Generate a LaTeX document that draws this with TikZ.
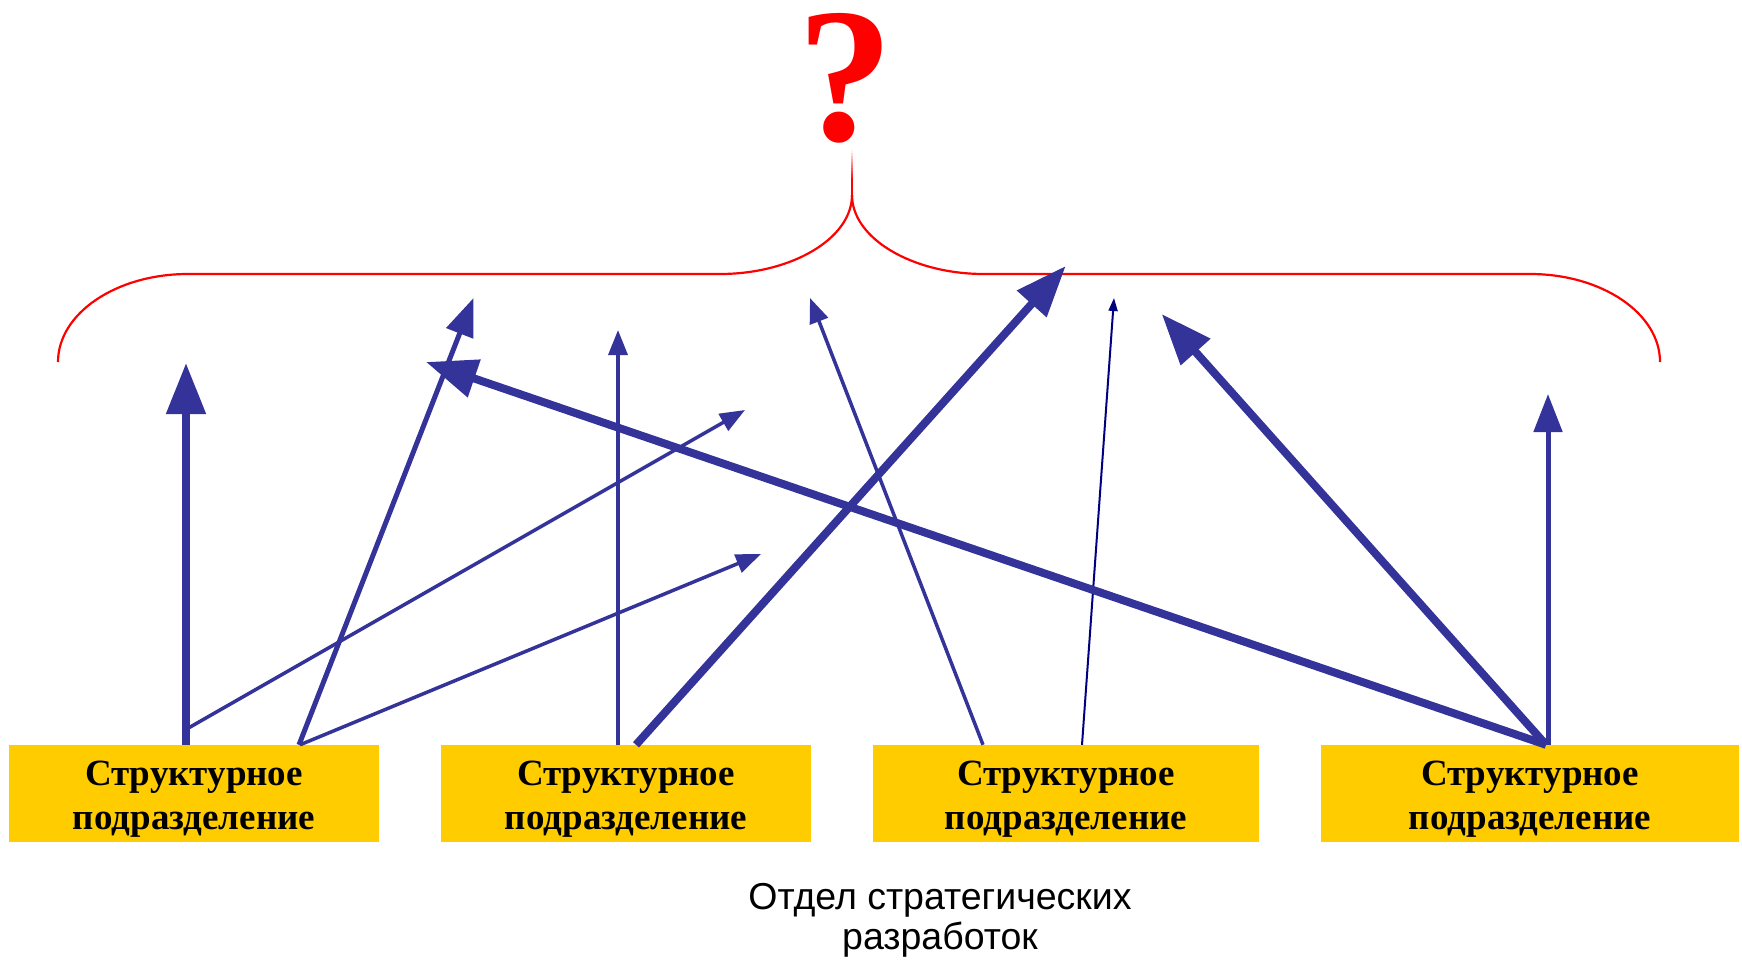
\documentclass[tikz,border=0pt]{standalone}
\usepackage{fontspec}
\setmainfont{Liberation Serif}
\newfontfamily\capfont{Liberation Sans}
\usetikzlibrary{arrows.meta}
\definecolor{arrblue}{RGB}{51,51,153}
\definecolor{navyblue}{RGB}{0,0,128}
\definecolor{boxyellow}{RGB}{255,204,0}
\definecolor{bracered}{RGB}{255,0,0}
\begin{document}
\begin{tikzpicture}[x=1pt,y=-1pt,
  unitbox/.style={fill=boxyellow, draw=none, inner sep=0pt, minimum height=97pt,
    align=center, font=\fontsize{37}{44}\selectfont\bfseries},
  thickarr/.style={draw=arrblue, line width=8pt, -{Triangle[length=51pt,width=38pt]}},
  medarr/.style={draw=arrblue, line width=5pt, -{Triangle[length=38pt,width=28pt]}},
  thinarr/.style={draw=arrblue, line width=3.5pt, -{Triangle[length=25pt,width=19pt]}},
  hairarr/.style={draw=navyblue, line width=2pt, -{Triangle[length=13pt,width=9pt]}},
  bracepath/.style={draw=bracered, line width=2.2pt}]
\useasboundingbox (0,0) rectangle (1742,960);

% boxes
\node[unitbox, minimum width=370pt] (b1) at (194,793.5) {\rule{0pt}{35pt}Структурное\\подразделение};
\node[unitbox, minimum width=370pt] (b2) at (626,793.5) {\rule{0pt}{35pt}Структурное\\подразделение};
\node[unitbox, minimum width=386pt] (b3) at (1066,793.5) {\rule{0pt}{35pt}Структурное\\подразделение};
\node[unitbox, minimum width=418pt] (b4) at (1530,793.5) {\rule{0pt}{35pt}Структурное\\подразделение};

% question mark
\node[anchor=base, text=bracered, inner sep=0pt, font=\fontsize{192}{192}\selectfont\bfseries] (qm) at (845,141) {?};

% brace
\foreach \i in {0,...,9}
  \draw[draw=bracered, line width=2.2pt, draw opacity=\i/10+0.05] (852,150+3*\i) -- (852,153+3*\i);
\draw[bracepath] (852,179) -- (852,195);
\draw[bracepath] (852,195) .. controls (852,238.6) and (791.5,274) .. (720,274) -- (188,274)
  .. controls (116.2,274) and (58,313.4) .. (58,362);
\draw[bracepath] (852,195) .. controls (852,238.6) and (912.5,274) .. (984,274) -- (1530,274)
  .. controls (1601.8,274) and (1660,313.4) .. (1660,362);

% free ends of the connectors
\coordinate (t1) at (186,363);
\coordinate (t2) at (473.5,298);
\coordinate (t3) at (745,410);
\coordinate (t4) at (761,554);
\coordinate (t5) at (618,330);
\coordinate (t6) at (1065.7,266);
\coordinate (t7) at (810,298);
\coordinate (t8) at (1114,298);
\coordinate (t9) at (426,362);
\coordinate (t10) at (1161.7,314);
\coordinate (t11) at (1548,394);

% connectors
\draw[thickarr] ([xshift=-8pt]b1.north) -- (t1);
\draw[medarr] ([xshift=105pt]b1.north) -- (t2);
\draw[thinarr] ([xshift=-7pt,yshift=16pt]b1.north) -- (t3);
\draw[thinarr] ([xshift=106pt]b1.north) -- (t4);
\draw[thinarr] ([xshift=-8pt]b2.north) -- (t5);
\draw[thickarr] ([xshift=10pt]b2.north) -- (t6);
\draw[thinarr] ([xshift=-83pt]b3.north) -- (t7);
\draw[hairarr] ([xshift=16pt]b3.north) -- (t8);
\draw[thickarr] ([xshift=16pt]b4.north) -- (t9);
\draw[thickarr] ([xshift=16pt]b4.north) -- (t10);
\draw[medarr] ([xshift=18pt]b4.north) -- (t11);

% caption
\node[font=\capfont\fontsize{37.5}{40}\selectfont, align=center, inner sep=0pt] (dept) at (940,920) {Отдел стратегических\\разработок};
\end{tikzpicture}
\end{document}
